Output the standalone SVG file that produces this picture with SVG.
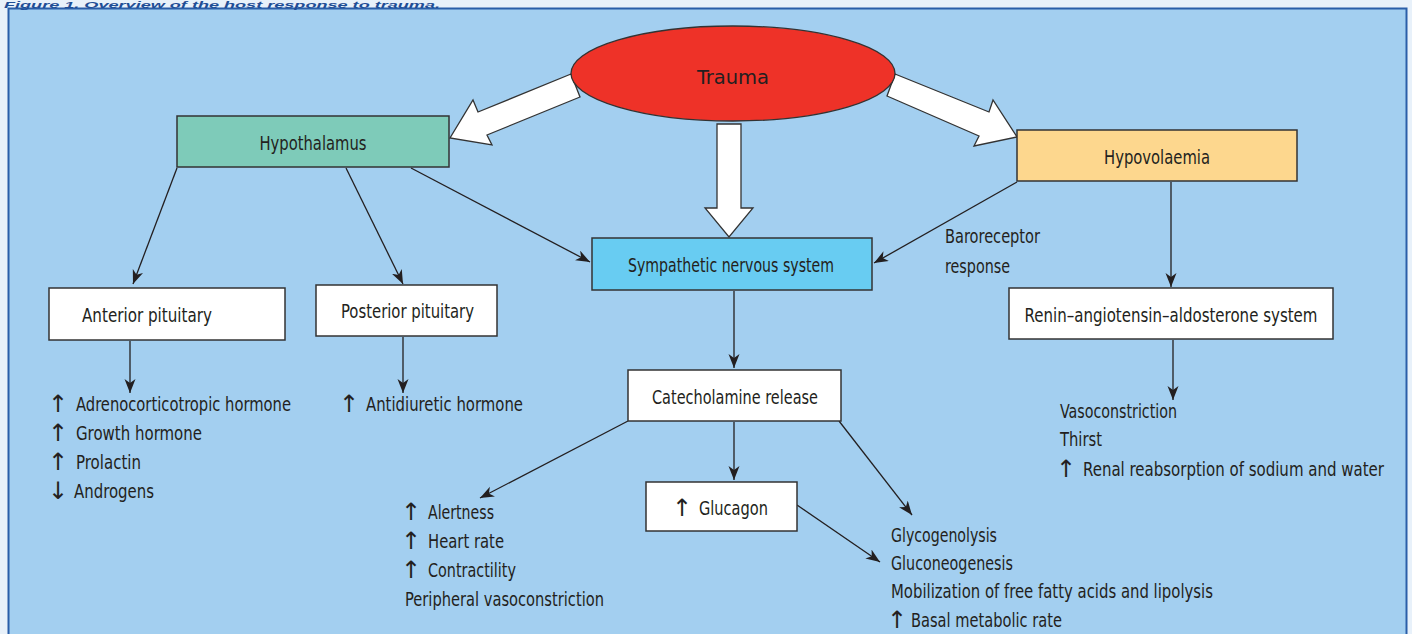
<svg xmlns="http://www.w3.org/2000/svg" width="1412" height="634" viewBox="0 0 1412 634">
<defs>
<style>
.t{font-family:"Liberation Sans Narrow","DejaVu Sans Condensed","Liberation Sans",sans-serif;font-size:19px;fill:#231f20;}
.c{text-anchor:middle;}
.e{text-anchor:end;}
.ar{font-family:"DejaVu Sans",sans-serif;font-size:24px;fill:#231f20;text-anchor:middle;}
.box{stroke:#333;stroke-width:1.5;}
.ln{stroke:#231f20;stroke-width:1.3;fill:none;marker-end:url(#ah);}
.big{fill:#fff;stroke:#333;stroke-width:1.3;stroke-linejoin:miter;}
</style>
<marker id="ah" markerUnits="userSpaceOnUse" markerWidth="15" markerHeight="12" refX="14" refY="5.5" orient="auto">
<path d="M0,0 L14,5.5 L0,11 L4,5.5 z" fill="#231f20"/>
</marker>
</defs>
<rect x="0" y="0" width="1412" height="634" fill="#e8f1fa"/>
<rect x="8.5" y="8.5" width="1398" height="640" fill="#a3cff0" stroke="#2a5ea8" stroke-width="2"/>
<text x="4" y="7.5" font-family="Liberation Sans,sans-serif" font-size="9.5" font-weight="bold" font-style="italic" fill="#1f4e96" textLength="436" lengthAdjust="spacingAndGlyphs">Figure 1. Overview of the host response to trauma.</text>

<g id="connectors">
<polygon class="big" points="571,74 478,112 473,100 450,138 492,145 487,135 580,97"/>
<polygon class="big" points="895,74 989,112 993,100 1017,137 974,146 979,136 887,96"/>
<polygon class="big" points="717,124 741,124 741,208 753,208 729,237 705,208 717,208"/>
<line class="ln" x1="177" y1="168" x2="133" y2="284"/>
<line class="ln" x1="346" y1="168" x2="403" y2="284"/>
<line class="ln" x1="411" y1="168" x2="590" y2="262"/>
<line class="ln" x1="1017" y1="182" x2="874" y2="263"/>
<line class="ln" x1="1171" y1="182" x2="1171" y2="287"/>
<line class="ln" x1="130" y1="341" x2="130" y2="393"/>
<line class="ln" x1="403" y1="337" x2="403" y2="393"/>
<line class="ln" x1="734" y1="291" x2="734" y2="368"/>
<line class="ln" x1="628" y1="421" x2="480" y2="498"/>
<line class="ln" x1="734" y1="422" x2="734" y2="480"/>
<line class="ln" x1="839" y1="421" x2="912" y2="515"/>
<line class="ln" x1="797" y1="505" x2="880" y2="562"/>
<line class="ln" x1="1173" y1="340" x2="1173" y2="400"/>
</g>

<g id="trauma">
<ellipse cx="733" cy="73.5" rx="162" ry="47.5" fill="#ee3228" stroke="#333" stroke-width="1.3"/>
<text class="t c" x="733" y="84" font-size="30" textLength="72" lengthAdjust="spacingAndGlyphs">Trauma</text>
</g>
<g id="hypothalamus">
<rect class="box" x="177" y="116" width="272" height="51" fill="#7ecbb9"/>
<text class="t c" x="313" y="150" textLength="107" lengthAdjust="spacingAndGlyphs">Hypothalamus</text>
</g>
<g id="hypovolaemia">
<rect class="box" x="1017" y="130" width="280" height="51" fill="#fdd78e"/>
<text class="t c" x="1157" y="164" textLength="106" lengthAdjust="spacingAndGlyphs">Hypovolaemia</text>
</g>
<g id="sympathetic">
<rect class="box" x="592" y="238" width="280" height="52" fill="#68ccf2"/>
<text class="t c" x="731" y="272" textLength="206" lengthAdjust="spacingAndGlyphs">Sympathetic nervous system</text>
</g>
<g id="anterior">
<rect class="box" x="49" y="288" width="236" height="52" fill="#fff"/>
<text class="t c" x="147" y="322" textLength="130" lengthAdjust="spacingAndGlyphs">Anterior pituitary</text>
</g>
<g id="posterior">
<rect class="box" x="316" y="285" width="181" height="51" fill="#fff"/>
<text class="t c" x="407.5" y="318" textLength="133" lengthAdjust="spacingAndGlyphs">Posterior pituitary</text>
</g>
<g id="catecholamine">
<rect class="box" x="628" y="370" width="213" height="51" fill="#fff"/>
<text class="t c" x="735" y="404" textLength="166" lengthAdjust="spacingAndGlyphs">Catecholamine release</text>
</g>
<g id="glucagon">
<rect class="box" x="646" y="482" width="151" height="49" fill="#fff"/>
<text class="ar" x="682" y="516">↑</text>
<text class="t" x="699" y="515" textLength="69" lengthAdjust="spacingAndGlyphs">Glucagon</text>
</g>
<g id="raas">
<rect class="box" x="1009" y="288" width="324" height="51" fill="#fff"/>
<text class="t c" x="1171" y="322" textLength="293" lengthAdjust="spacingAndGlyphs">Renin–angiotensin–aldosterone system</text>
</g>

<g id="anterior-effects">
<text class="ar" x="58" y="412">↑</text><text class="t" x="76" y="411" textLength="215" lengthAdjust="spacingAndGlyphs">Adrenocorticotropic hormone</text>
<text class="ar" x="58" y="441">↑</text><text class="t" x="76" y="440" textLength="126" lengthAdjust="spacingAndGlyphs">Growth hormone</text>
<text class="ar" x="58" y="470">↑</text><text class="t" x="76" y="469" textLength="65" lengthAdjust="spacingAndGlyphs">Prolactin</text>
<text class="ar" x="58" y="499">↓</text><text class="t" x="74" y="498" textLength="80" lengthAdjust="spacingAndGlyphs">Androgens</text>
</g>
<g id="posterior-effects">
<text class="ar" x="349" y="412">↑</text><text class="t" x="366" y="411" textLength="157" lengthAdjust="spacingAndGlyphs">Antidiuretic hormone</text>
</g>
<g id="sympathetic-effects">
<text class="ar" x="411" y="520">↑</text><text class="t" x="428" y="519" textLength="66" lengthAdjust="spacingAndGlyphs">Alertness</text>
<text class="ar" x="411" y="549">↑</text><text class="t" x="428" y="548" textLength="76" lengthAdjust="spacingAndGlyphs">Heart rate</text>
<text class="ar" x="411" y="578">↑</text><text class="t" x="428" y="577" textLength="88" lengthAdjust="spacingAndGlyphs">Contractility</text>
<text class="t" x="405" y="606" textLength="199" lengthAdjust="spacingAndGlyphs">Peripheral vasoconstriction</text>
</g>
<g id="metabolic-effects">
<text class="t" x="891" y="542" textLength="106" lengthAdjust="spacingAndGlyphs">Glycogenolysis</text>
<text class="t" x="891" y="570" textLength="122" lengthAdjust="spacingAndGlyphs">Gluconeogenesis</text>
<text class="t" x="891" y="598" textLength="322" lengthAdjust="spacingAndGlyphs">Mobilization of free fatty acids and lipolysis</text>
<text class="ar" x="897" y="628">↑</text><text class="t" x="911" y="627" textLength="151" lengthAdjust="spacingAndGlyphs">Basal metabolic rate</text>
</g>
<g id="raas-effects">
<text class="t" x="1060" y="418" textLength="117" lengthAdjust="spacingAndGlyphs">Vasoconstriction</text>
<text class="t" x="1060" y="446" textLength="42" lengthAdjust="spacingAndGlyphs">Thirst</text>
<text class="ar" x="1066" y="477">↑</text><text class="t e" x="1384" y="476" textLength="301" lengthAdjust="spacingAndGlyphs">Renal reabsorption of sodium and water</text>
</g>
<g id="baroreceptor-label">
<text class="t" x="945" y="243" textLength="95" lengthAdjust="spacingAndGlyphs">Baroreceptor</text>
<text class="t" x="945" y="273" textLength="65" lengthAdjust="spacingAndGlyphs">response</text>
</g>
</svg>
